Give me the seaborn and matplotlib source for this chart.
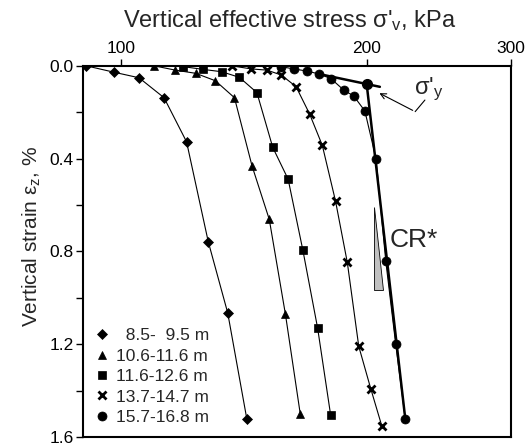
import matplotlib
matplotlib.use("Agg")
import matplotlib.pyplot as plt
import matplotlib.ticker as mticker
from matplotlib.lines import Line2D
import seaborn as sns
import numpy as np

# dados (tensao vertical efetiva em kPa, deformacao em %)
labels = ["  8.5-  9.5 m", "10.6-11.6 m", "11.6-12.6 m", "13.7-14.7 m", "15.7-16.8 m"]
markers = ["D", "^", "s", "x", "o"]

x_85 = [90.6, 98.1, 105.3, 113.0, 120.4, 128.0, 135.2, 142.7]
y_85 = [0.0, 0.028, 0.052, 0.138, 0.328, 0.759, 1.065, 1.523]

x_106 = [109.7, 116.6, 123.6, 130.6, 137.8, 144.8, 152.0, 159.1, 165.9]
y_106 = [0.0, 0.019, 0.033, 0.065, 0.138, 0.432, 0.662, 1.072, 1.502]

x_116 = [119.2, 126.2, 132.9, 139.7, 146.8, 153.5, 160.3, 167.1, 174.2, 180.7]
y_116 = [0.004, 0.016, 0.026, 0.050, 0.116, 0.352, 0.489, 0.795, 1.131, 1.505]

x_137 = [137.0, 144.5, 151.0, 157.2, 163.9, 170.3, 176.5, 183.2, 189.4, 195.6, 202.3, 208.8]
y_137 = [0.001, 0.014, 0.019, 0.040, 0.090, 0.208, 0.343, 0.583, 0.848, 1.209, 1.391, 1.554]

x_157 = [157.1, 162.9, 169.0, 175.0, 180.9, 187.5, 192.9, 199.0, 205.4, 211.1, 217.1, 223.0]
y_157 = [0.004, 0.014, 0.023, 0.036, 0.056, 0.105, 0.131, 0.195, 0.402, 0.843, 1.201, 1.521]

series_x = [x_85, x_106, x_116, x_137, x_157]
series_y = [y_85, y_106, y_116, y_137, y_157]

# construcao bilinear (tensao de escoamento e CR*)
sigma_y = (200.0, 0.078)
reta1_x = [175.0, 207.6]
reta1_y = [0.036, 0.091]
reta2_x = [200.0, 223.0]
reta2_y = [0.078, 1.521]
tri_x = [204.4, 204.4, 209.6]
tri_y = [0.608, 0.967, 0.967]

sns.set_style("ticks")
plt.rcParams['font.family'] = ['Liberation Sans', 'DejaVu Sans']
plt.rcParams['mathtext.fontset'] = 'custom'
plt.rcParams['mathtext.rm'] = 'Liberation Sans'
plt.rcParams['mathtext.it'] = 'Liberation Sans'

fig = plt.figure(figsize=(5.32, 4.43), dpi=100)
ax = fig.add_axes([0.1566, 0.0135, 0.803, 0.8382])

msize = {"D": 5.5, "^": 6, "s": 6, "x": 6, "o": 6.5}
for xs, ys, m in zip(series_x, series_y, markers):
    sns.lineplot(x=xs, y=ys, ax=ax, color="k", lw=0.8, marker=m,
                 markersize=msize[m], mew=2 if m == "x" else 0.5,
                 mec="k", mfc="k", sort=False, estimator=None)

ax.plot(reta1_x, reta1_y, color="k", lw=1.8)
ax.plot(reta2_x, reta2_y, color="k", lw=1.8)
ax.plot(*sigma_y, marker="o", color="k", markersize=7)
ax.fill(tri_x, tri_y, facecolor="#c0c0c0", edgecolor="k", lw=0.6)

ax.text(228.5, 0.75, "CR*", fontsize=19, ha="center", va="center")
ax.text(238, 0.10, "σ'$_\\mathrm{y}$", fontsize=17, ha="center", va="center")
ax.plot([235.7, 229.3], [0.148, 0.198], color="k", lw=0.8)
ax.annotate("", xy=(205.9, 0.113), xytext=(229.3, 0.198),
            arrowprops=dict(arrowstyle="->", color="k", lw=0.8))

ax.set_xscale("log")
ax.set_xlim(90, 300)
ax.set_ylim(1.6, 0)
ax.xaxis.set_major_locator(mticker.FixedLocator([100, 200, 300]))
ax.xaxis.set_major_formatter(mticker.FixedFormatter(["100", "200", "300"]))
ax.xaxis.set_minor_locator(mticker.NullLocator())
ax.xaxis.tick_top()
ax.xaxis.set_label_position("top")
ax.set_yticks([0.0, 0.4, 0.8, 1.2, 1.6])
ax.yaxis.set_major_formatter(mticker.FormatStrFormatter("%.1f"))
ax.yaxis.set_minor_locator(mticker.FixedLocator([0.2, 0.6, 1.0, 1.4]))
ax.tick_params(axis="both", which="both", direction="out", length=5, width=1,
               labelsize=12.5, colors="k", pad=2)
ax.tick_params(axis="y", which="minor", length=5)
for s in ax.spines.values():
    s.set_linewidth(1.5)
    s.set_color("k")
    s.set_visible(True)

ax.set_xlabel("Vertical effective stress σ'$_\\mathrm{v}$, kPa", fontsize=17, labelpad=3)
ax.xaxis.set_label_coords(0.484, 1.105)
ax.set_ylabel("Vertical strain ε$_\\mathrm{z}$, %", fontsize=15, labelpad=4)
ax.yaxis.set_label_coords(-0.094, 0.54)

handles = [Line2D([], [], color="k", ls="none", marker=m, markersize=msize[m],
                  mew=2 if m == "x" else 0.5) for m in markers]
ax.legend(handles, labels, loc="lower left", bbox_to_anchor=(0.0, 0.0),
          frameon=False, fontsize=12.5, handlelength=0.8, handletextpad=0.4,
          labelspacing=0.3, borderaxespad=0.3)

fig.savefig("out.png", dpi=100)
